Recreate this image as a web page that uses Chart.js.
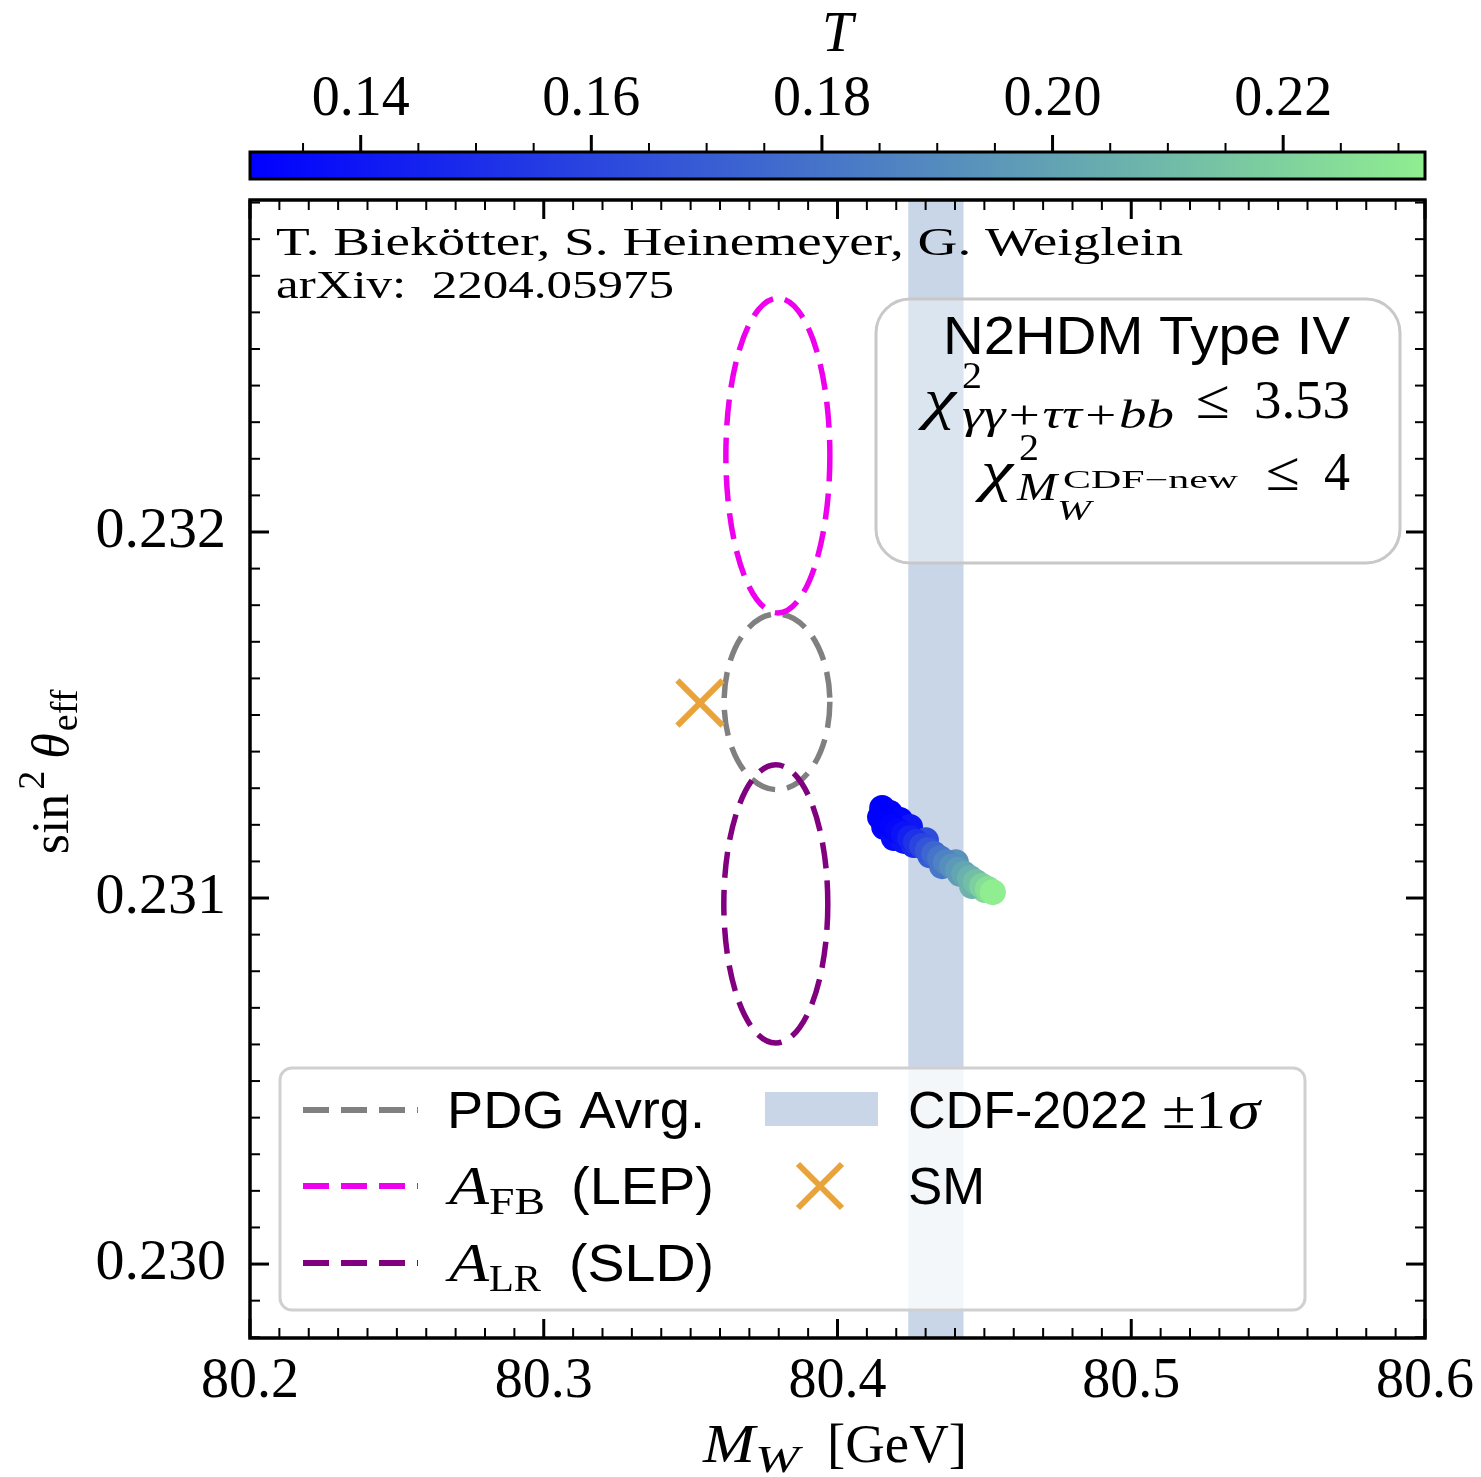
<!DOCTYPE html>
<html lang="en">
<head>
<meta charset="UTF-8">
<title>sin2 theta_eff vs M_W - N2HDM Type IV</title>
<script src="https://cdn.jsdelivr.net/npm/chart.js"></script>
<style>
  html, body { margin: 0; padding: 0; background: #fff; }
</style>
</head>
<body>
<canvas id="chart" width="1481" height="1477"></canvas>
<script>
// axis ranges and ticks
const xRange = [80.2, 80.6];
const yRange = [0.229798, 0.232907];
const tRange = [0.1304, 0.2323];
const xTicks = [80.2, 80.3, 80.4, 80.5, 80.6];
const yTicks = [0.230, 0.231, 0.232];
const tTicks = [0.14, 0.16, 0.18, 0.20, 0.22];

// N2HDM Type IV points (M_W, sin2theta_eff, T); edge points first, centre line drawn on top
const pointMW = [80.4152, 80.4179, 80.4213, 80.4247, 80.4159, 80.4192, 80.4226, 80.4260, 80.4315, 80.4417, 80.4502,
                 80.4356, 80.4403, 80.4458, 80.4301,
                 80.4145, 80.4165, 80.4186, 80.4206, 80.4226, 80.4247, 80.4267, 80.4288, 80.4308, 80.4329,
                 80.4349, 80.4369, 80.4390, 80.4410, 80.4431, 80.4451, 80.4471, 80.4492, 80.4512, 80.4529];
const pointSin = [0.231246, 0.231232, 0.231213, 0.231194, 0.231194, 0.231164, 0.231156, 0.231145, 0.231117, 0.231066, 0.231022,
                  0.231087, 0.231098, 0.231033, 0.231158,
                  0.231221, 0.231210, 0.231197, 0.231183, 0.231175, 0.231164, 0.231153, 0.231142, 0.231131, 0.231120,
                  0.231109, 0.231098, 0.231087, 0.231077, 0.231066, 0.231055, 0.231044, 0.231033, 0.231025, 0.231016];
const pointT = [0.130, 0.131, 0.133, 0.140, 0.132, 0.135, 0.139, 0.148, 0.170, 0.198, 0.224,
                0.181, 0.193, 0.207, 0.163,
                0.131, 0.131, 0.132, 0.134, 0.138, 0.144, 0.152, 0.160, 0.167, 0.174,
                0.180, 0.186, 0.191, 0.196, 0.201, 0.206, 0.212, 0.219, 0.226, 0.232];

// measurement ellipses: PDG, A_FB (LEP), A_LR (SLD)
const ellipseMW = [80.3794, 80.3797, 80.3790];
const ellipseSin = [0.231536, 0.232209, 0.230984];
const ellipseDMW = [0.0180, 0.0177, 0.0177];
const ellipseDSin = [0.000240, 0.000430, 0.000380];
const ellipseColors = ['#808080', '#ee00ee', '#800080'];

// CDF-2022 band and SM point
const cdfMW = 80.4335;
const cdfErr = 0.0094;
const smMW = 80.3532;
const smSin = 0.231533;

const SERIF = '"Liberation Serif", "DejaVu Serif", serif';
const SANS = '"Liberation Sans", Arial, sans-serif';
const BAND = 'rgba(176, 196, 222, 0.7)';
const SM_COLOR = '#e8a33a';

// colormap blue -> lightgreen
const cLow = [0, 0, 255], cHigh = [144, 238, 144];
function tColor(t) {
    let f = (t - tRange[0]) / (tRange[1] - tRange[0]);
    f = Math.max(0, Math.min(1, f));
    const c = cLow.map((v, i) => Math.round(v + (cHigh[i] - v) * f));
    return 'rgb(' + c.join(',') + ')';
}

// draw text pieces one after the other (sub/superscripts); w = width to stretch the piece to
function drawRuns(ctx, runs, x, y, align) {
    const widths = runs.map(r => { ctx.font = r.font; return r.w || ctx.measureText(r.text).width; });
    let total = 0;
    runs.forEach((r, i) => { if (!r.stay) total += widths[i] + (r.gap || 0); });
    let cx = align === 'right' ? x - total : (align === 'center' ? x - total / 2 : x);
    ctx.textAlign = 'left';
    ctx.textBaseline = 'alphabetic';
    runs.forEach((r, i) => {
        ctx.font = r.font;
        const m = ctx.measureText(r.text).width;
        ctx.save();
        ctx.translate(cx + (r.gap || 0), y + (r.dy || 0));
        if (r.w) ctx.scale(r.w / m, 1);
        ctx.fillText(r.text, 0, 0);
        ctx.restore();
        if (!r.stay) cx += widths[i] + (r.gap || 0);
    });
}

function roundRect(ctx, x, y, w, h, r) {
    ctx.beginPath();
    ctx.moveTo(x + r, y);
    ctx.arcTo(x + w, y, x + w, y + h, r);
    ctx.arcTo(x + w, y + h, x, y + h, r);
    ctx.arcTo(x, y + h, x, y, r);
    ctx.arcTo(x, y, x + w, y, r);
    ctx.closePath();
}

const backgroundPlugin = {
    id: 'background',
    beforeDatasetsDraw(chart) {
        const { ctx, chartArea: a, scales: { x, y } } = chart;
        ctx.save();
        ctx.beginPath();
        ctx.rect(a.left, a.top, a.right - a.left, a.bottom - a.top);
        ctx.clip();
        // CDF band
        const x0 = x.getPixelForValue(cdfMW - cdfErr);
        const x1 = x.getPixelForValue(cdfMW + cdfErr);
        ctx.fillStyle = BAND;
        ctx.fillRect(x0, a.top, x1 - x0, a.bottom - a.top);
        // ellipses
        ctx.lineWidth = 5.5;
        ctx.setLineDash([26, 12]);
        for (let i = 0; i < ellipseMW.length; i++) {
            const cx = x.getPixelForValue(ellipseMW[i]);
            const cy = y.getPixelForValue(ellipseSin[i]);
            const rx = Math.abs(x.getPixelForValue(ellipseMW[i] + ellipseDMW[i]) - cx);
            const ry = Math.abs(y.getPixelForValue(ellipseSin[i] + ellipseDSin[i]) - cy);
            ctx.strokeStyle = ellipseColors[i];
            ctx.beginPath();
            ctx.ellipse(cx, cy, rx, ry, 0, 0, Math.PI * 2);
            ctx.stroke();
        }
        ctx.restore();
    }
};

const overlayPlugin = {
    id: 'overlay',
    afterDatasetsDraw(chart) {
        const ctx = chart.ctx;
        ctx.save();
        ctx.fillStyle = '#000';

        // author text
        drawRuns(ctx, [{ text: 'T. Biekötter, S. Heinemeyer, G. Weiglein', font: '41px ' + SERIF, w: 907 }], 276, 255, 'left');
        drawRuns(ctx, [{ text: 'arXiv:  2204.05975', font: '41px ' + SERIF, w: 398 }], 276, 298, 'left');

        // info box
        roundRect(ctx, 876, 299, 524, 264, 34);
        ctx.fillStyle = 'rgba(255,255,255,0.35)';
        ctx.fill();
        ctx.strokeStyle = '#c8c8c8';
        ctx.lineWidth = 3;
        ctx.stroke();
        ctx.fillStyle = '#000';
        drawRuns(ctx, [{ text: 'N2HDM Type IV', font: '53px ' + SANS, w: 407 }], 1350, 354, 'right');
        drawRuns(ctx, [
            { text: 'χ', font: 'italic 56px ' + SERIF, w: 32 },
            { text: '2', font: '38px ' + SERIF, dy: -30, gap: 6, stay: true, w: 20 },
            { text: 'γγ+ττ+bb', font: 'italic 40px ' + SERIF, dy: 10, gap: 6, w: 212 },
            { text: '≤', font: '56px ' + SERIF, gap: 22, w: 34 },
            { text: '3.53', font: '54px ' + SERIF, gap: 24, w: 96 }
        ], 1350, 418, 'right');
        drawRuns(ctx, [
            { text: 'χ', font: 'italic 56px ' + SERIF, w: 32 },
            { text: '2', font: '38px ' + SERIF, dy: -30, gap: 6, stay: true, w: 20 },
            { text: 'M', font: 'italic 40px ' + SERIF, dy: 10, gap: 4, w: 40 },
            { text: 'W', font: 'italic 30px ' + SERIF, dy: 30, stay: true, w: 34 },
            { text: 'CDF−new', font: '25px ' + SERIF, dy: -2, gap: 6, w: 175 },
            { text: '≤', font: '56px ' + SERIF, gap: 28, w: 34 },
            { text: '4', font: '54px ' + SERIF, gap: 24, w: 26 }
        ], 1350, 490, 'right');

        // legend
        roundRect(ctx, 280, 1068, 1025, 242, 12);
        ctx.fillStyle = 'rgba(255,255,255,0.8)';
        ctx.fill();
        ctx.strokeStyle = '#d0d0d0';
        ctx.lineWidth = 3;
        ctx.stroke();

        const rows = [1110, 1186, 1263];
        ctx.lineWidth = 6;
        ctx.setLineDash([26, 12]);
        [0, 1, 2].forEach(i => {
            ctx.strokeStyle = ellipseColors[i];
            ctx.beginPath();
            ctx.moveTo(303, rows[i]);
            ctx.lineTo(418, rows[i]);
            ctx.stroke();
        });
        ctx.setLineDash([]);
        ctx.fillStyle = BAND;
        ctx.fillRect(765, 1092, 113, 34);
        ctx.strokeStyle = SM_COLOR;
        ctx.lineWidth = 6;
        ctx.beginPath();
        ctx.moveTo(798, 1164); ctx.lineTo(842, 1208);
        ctx.moveTo(842, 1164); ctx.lineTo(798, 1208);
        ctx.stroke();

        ctx.fillStyle = '#000';
        const base = 18;
        drawRuns(ctx, [{ text: 'PDG Avrg.', font: '51px ' + SANS, w: 258 }], 447, rows[0] + base, 'left');
        drawRuns(ctx, [
            { text: 'A', font: 'italic 54px ' + SERIF, w: 40 },
            { text: 'FB', font: '38px ' + SERIF, dy: 10, w: 56 },
            { text: '(LEP)', font: '51px ' + SANS, gap: 26, w: 143 }
        ], 449, rows[1] + base, 'left');
        drawRuns(ctx, [
            { text: 'A', font: 'italic 54px ' + SERIF, w: 40 },
            { text: 'LR', font: '38px ' + SERIF, dy: 10, w: 52 },
            { text: '(SLD)', font: '51px ' + SANS, gap: 28, w: 145 }
        ], 449, rows[2] + base, 'left');
        drawRuns(ctx, [
            { text: 'CDF-2022', font: '51px ' + SANS, w: 240 },
            { text: '±1', font: '54px ' + SERIF, gap: 14, w: 64 },
            { text: 'σ', font: 'italic 54px ' + SERIF, gap: 2, w: 32 }
        ], 908, rows[0] + base, 'left');
        drawRuns(ctx, [{ text: 'SM', font: '51px ' + SANS, w: 77 }], 908, rows[1] + base, 'left');
        ctx.restore();
    },
    afterDraw(chart) {
        const { ctx, chartArea: a, scales: { x, y, cb } } = chart;
        ctx.save();
        ctx.strokeStyle = '#000';

        // inward ticks on all four sides
        const tick = (x0, y0, x1, y1, w) => {
            ctx.lineWidth = w;
            ctx.beginPath(); ctx.moveTo(x0, y0); ctx.lineTo(x1, y1); ctx.stroke();
        };
        for (let v = xRange[0]; v <= xRange[1] + 1e-9; v += 0.01) {
            const px = x.getPixelForValue(v);
            const major = xTicks.some(t => Math.abs(t - v) < 1e-6);
            const len = major ? 19 : 10;
            tick(px, a.bottom, px, a.bottom - len, major ? 3 : 2);
            tick(px, a.top, px, a.top + len, major ? 3 : 2);
        }
        for (let k = Math.ceil(yRange[0] / 0.0001); k * 0.0001 <= yRange[1]; k++) {
            const v = k * 0.0001;
            const py = y.getPixelForValue(v);
            const major = yTicks.some(t => Math.abs(t - v) < 1e-8);
            const len = major ? 19 : 10;
            tick(a.left, py, a.left + len, py, major ? 3 : 2);
            tick(a.right, py, a.right - len, py, major ? 3 : 2);
        }
        // frame
        ctx.lineWidth = 3.5;
        ctx.strokeRect(a.left, a.top, a.right - a.left, a.bottom - a.top);

        // colorbar
        const cbTop = 152, cbBot = 179;
        const grad = ctx.createLinearGradient(a.left, 0, a.right, 0);
        grad.addColorStop(0, tColor(tRange[0]));
        grad.addColorStop(1, tColor(tRange[1]));
        ctx.fillStyle = grad;
        ctx.fillRect(a.left, cbTop, a.right - a.left, cbBot - cbTop);
        ctx.lineWidth = 3;
        ctx.strokeRect(a.left, cbTop, a.right - a.left, cbBot - cbTop);
        for (let k = Math.ceil(tRange[0] / 0.005); k * 0.005 <= tRange[1]; k++) {
            const v = k * 0.005;
            const px = cb.getPixelForValue(v);
            const major = tTicks.some(t => Math.abs(t - v) < 1e-6);
            tick(px, cbTop, px, cbTop - (major ? 17 : 9), major ? 3 : 2);
        }

        // axis titles
        ctx.fillStyle = '#000';
        drawRuns(ctx, [
            { text: 'M', font: 'italic 54px ' + SERIF, w: 52 },
            { text: 'W', font: 'italic 38px ' + SERIF, dy: 10, w: 44 },
            { text: '[GeV]', font: '54px ' + SERIF, gap: 28, w: 140 }
        ], 835, 1462, 'center');
        ctx.translate(68, 772);
        ctx.rotate(-Math.PI / 2);
        drawRuns(ctx, [
            { text: 'sin', font: '52px ' + SERIF },
            { text: '2', font: '38px ' + SERIF, dy: -24, gap: 4 },
            { text: 'θ', font: 'italic 52px ' + SERIF, gap: 12 },
            { text: 'eff', font: '38px ' + SERIF, dy: 9, gap: 2 }
        ], 0, 0, 'center');
        ctx.restore();
    }
};

const ctx = document.getElementById('chart').getContext('2d');
const tickFont = { family: SERIF, size: 56 };

new Chart(ctx, {
    type: 'scatter',
    data: {
        datasets: [
            {
                label: 'SM',
                data: [{ x: smMW, y: smSin }],
                pointStyle: 'crossRot',
                pointRadius: 32,
                pointHoverRadius: 32,
                pointBorderColor: SM_COLOR,
                pointBorderWidth: 6,
                order: 1
            },
            {
                label: 'N2HDM Type IV',
                data: pointMW.map((v, i) => ({ x: v, y: pointSin[i] })),
                pointRadius: 13,
                pointHoverRadius: 13,
                pointBorderWidth: 0,
                pointBackgroundColor: pointT.map(tColor),
                order: 2
            }
        ]
    },
    options: {
        responsive: false,
        animation: false,
        events: [],
        layout: { padding: { top: 0, right: 56, left: 0, bottom: 0 } },
        plugins: { legend: { display: false }, tooltip: { enabled: false } },
        scales: {
            x: {
                type: 'linear',
                position: 'bottom',
                min: xRange[0],
                max: xRange[1],
                afterBuildTicks: s => { s.ticks = xTicks.map(v => ({ value: v })); },
                afterFit: s => { s.height = 139; },
                grid: { display: false },
                border: { display: false },
                ticks: { font: tickFont, color: '#000', padding: 3, autoSkip: false, maxRotation: 0,
                         callback: v => v.toFixed(1) }
            },
            y: {
                type: 'linear',
                position: 'left',
                min: yRange[0],
                max: yRange[1],
                afterBuildTicks: s => { s.ticks = yTicks.map(v => ({ value: v })); },
                afterFit: s => { s.width = 250; },
                grid: { display: false },
                border: { display: false },
                ticks: { font: { family: SERIF, size: 58 }, color: '#000', padding: 16, autoSkip: false,
                         callback: v => v.toFixed(3) }
            },
            cb: {
                type: 'linear',
                position: 'top',
                min: tRange[0],
                max: tRange[1],
                afterBuildTicks: s => { s.ticks = tTicks.map(v => ({ value: v })); },
                afterFit: s => { s.height = 200; },
                grid: { display: false },
                border: { display: false },
                ticks: { font: tickFont, color: '#000', padding: 58, autoSkip: false, maxRotation: 0,
                         callback: v => v.toFixed(2) },
                title: { display: true, text: 'T', color: '#000',
                         font: { family: SERIF, size: 56, style: 'italic' }, padding: { top: 3, bottom: 0 } }
            }
        }
    },
    plugins: [backgroundPlugin, overlayPlugin]
});
</script>
</body>
</html>
